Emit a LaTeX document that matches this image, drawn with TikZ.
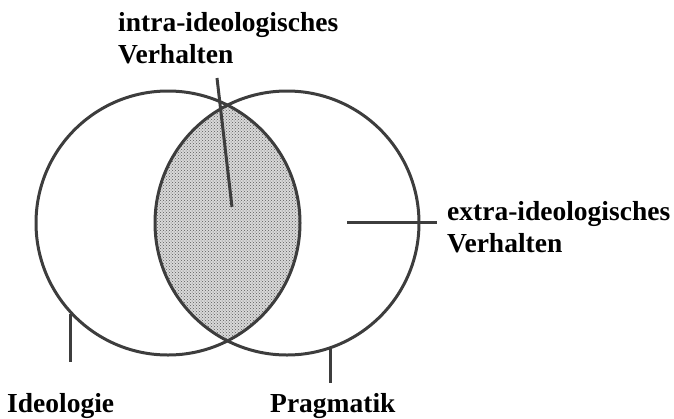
\documentclass[tikz,border=0pt]{standalone}
\usepackage{fontspec}
\usepackage{xcolor}
\usepackage{tikz}
\usetikzlibrary{patterns,calc}
\newfontfamily\lblfont{Liberation Serif}
\definecolor{inkgray}{gray}{0.24}
\tikzset{
  setbox/.style   ={draw=inkgray,circle,line width=3pt,minimum size=264pt,inner sep=0pt},
  lbl/.style      ={font=\lblfont\bfseries\fontsize{27.5}{32}\selectfont,
                    align=left,inner sep=0pt},
  tick/.style     ={draw=inkgray,line width=3pt},
}
\begin{document}
\begin{tikzpicture}[x=1pt,y=-1pt]
\useasboundingbox (0,0) rectangle (674,418);

% lens (overlap) with stipple
\begin{scope}
  \clip (168,223) circle (132);
  \fill[black!15] (287,223) circle (132);
  \fill[pattern=crosshatch dots,pattern color=black!65] (287,223) circle (132);
\end{scope}

\node[setbox] (ideo) at (168,223) {};
\node[setbox] (prag) at (287,223) {};

% labels
\node[lbl,anchor=base west] (intra) at (118,63) {intra-ideologisches\\Verhalten};
\node[lbl,anchor=base west] (extra) at (447,252) {extra-ideologisches\\Verhalten};
\node[lbl,anchor=base west] (ideoLbl) at (7,412) {Ideologie};
\node[lbl,anchor=base west] (pragLbl) at (270,412) {Pragmatik};

% pointer lines
\coordinate (intraTop) at (217,78);
\coordinate (lensMid) at (232,207);
\coordinate (extraIn) at (347,222);
\coordinate (extraOut) at (437,222);
\draw[tick] (intraTop) -- (lensMid);
\draw[tick] (extraIn) -- (extraOut);
\draw[tick] (ideo.223) -- ++(0,48);
\draw[tick] (prag.289) -- ++(0,34);

\end{tikzpicture}
\end{document}
